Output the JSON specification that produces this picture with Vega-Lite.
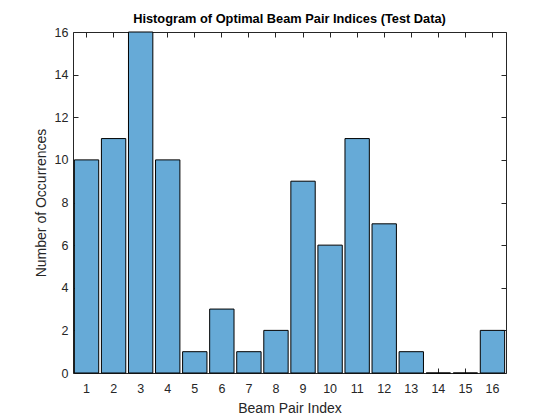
{
  "$schema": "https://vega.github.io/schema/vega-lite/v6.json",
  "width": 433,
  "height": 341,
  "autosize": {"type": "none"},
  "padding": {"left": 73, "top": 32, "right": 54, "bottom": 47},
  "background": "white",
  "title": {"text": "Histogram of Optimal Beam Pair Indices (Test Data)", "font": "Liberation Sans", "fontSize": 12.8, "fontWeight": "bold", "color": "black", "offset": 0, "anchor": "middle"},
  "config": {
    "view": {"stroke": "#262626", "strokeWidth": 1},
    "axis": {"domain": false, "grid": false, "labelFont": "Liberation Sans", "titleFont": "Liberation Sans", "labelFontSize": 12.5, "titleFontSize": 14, "labelColor": "#262626", "titleColor": "#262626", "tickColor": "#262626", "titleFontWeight": "normal"}
  },
  "data": {"values": [
    {"index": 1, "count": 10}, {"index": 2, "count": 11}, {"index": 3, "count": 16}, {"index": 4, "count": 10},
    {"index": 5, "count": 1}, {"index": 6, "count": 3}, {"index": 7, "count": 1}, {"index": 8, "count": 2},
    {"index": 9, "count": 9}, {"index": 10, "count": 6}, {"index": 11, "count": 11}, {"index": 12, "count": 7},
    {"index": 13, "count": 1}, {"index": 14, "count": 0}, {"index": 15, "count": 0}, {"index": 16, "count": 2}
  ]},
  "layer": [
    {
      "mark": {"type": "bar", "fill": "#66aad7", "stroke": "black", "strokeWidth": 1},
      "encoding": {
        "x": {"field": "index", "type": "ordinal", "scale": {"paddingInner": 0.1, "paddingOuter": 0.05},
              "axis": {"orient": "bottom", "title": "Beam Pair Index", "labelAngle": 0, "tickSize": -5, "labelPadding": 14, "titlePadding": 7}},
        "y": {"field": "count", "type": "quantitative", "scale": {"domain": [0, 16], "nice": false},
              "axis": {"orient": "left", "title": "Number of Occurrences", "values": [0,2,4,6,8,10,12,14,16], "tickSize": -5, "labelPadding": 10, "titlePadding": 6}}
      }
    },
    {
      "mark": {"type": "bar", "opacity": 0},
      "encoding": {
        "x": {"field": "index", "type": "ordinal", "axis": {"orient": "top", "title": null, "labels": false, "tickSize": -5}},
        "y": {"field": "count", "type": "quantitative", "axis": {"orient": "right", "title": null, "labels": false, "values": [0,2,4,6,8,10,12,14,16], "tickSize": -5}}
      }
    }
  ],
  "resolve": {"axis": {"x": "independent", "y": "independent"}}
}
